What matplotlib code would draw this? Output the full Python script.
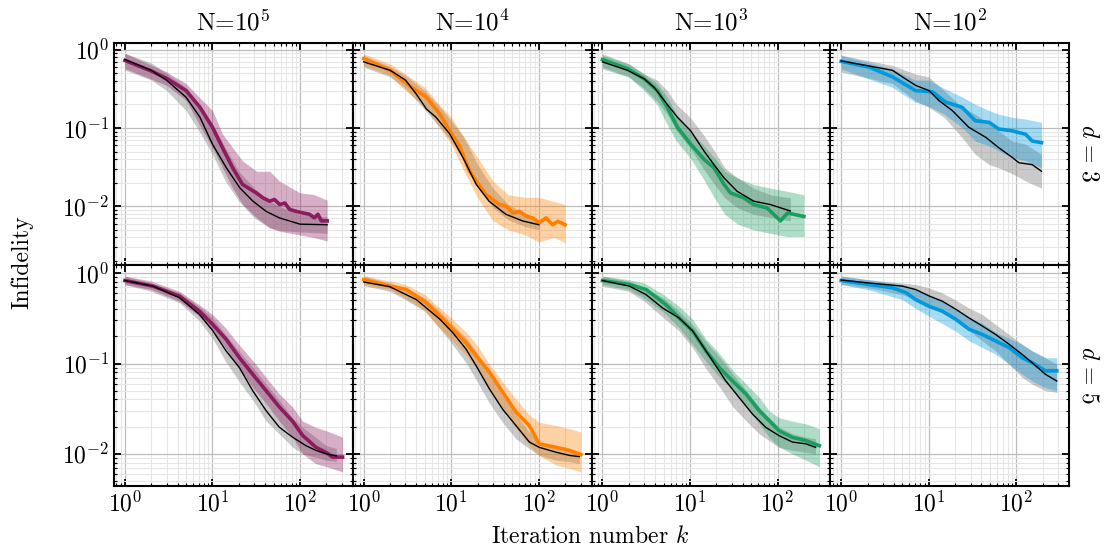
import numpy as np
import matplotlib
matplotlib.use("Agg")
import matplotlib.pyplot as plt
from matplotlib.ticker import LogLocator, FuncFormatter, NullFormatter

plt.rcParams['mathtext.fontset'] = 'cm'
plt.rcParams['font.family'] = 'cmr10'
plt.rcParams['axes.formatter.use_mathtext'] = True

col_titles = ["N=10$^{5}$", "N=10$^{4}$", "N=10$^{3}$", "N=10$^{2}$"]
row_labels = [r"$d\,=\,3$", r"$d\,=\,5$"]
colors = ["#8c1b5f", "#ff8000", "#1a9e5f", "#0099dd"]

t1_k = [1, 2, 3, 5, 7.2, 10, 13, 17, 22, 31.6, 37.7, 45, 51, 58.7, 67, 76, 90.6, 108, 128, 146, 160, 175, 204]
t1_y = [0.73, 0.535, 0.43, 0.30, 0.184, 0.102, 0.056, 0.031, 0.019, 0.0148, 0.0128, 0.0116, 0.0122, 0.0105, 0.011, 0.0091, 0.0086, 0.0082, 0.0079, 0.0071, 0.0079, 0.0065, 0.0065]
t1_bk = [1, 3, 5, 7, 10, 13, 17, 22, 32, 45, 58, 100, 141, 204]
t1_hi = [0.9, 0.52, 0.37, 0.25, 0.167, 0.084, 0.056, 0.038, 0.028, 0.028, 0.021, 0.0148, 0.0142, 0.012]
t1_lo = [0.575, 0.35, 0.225, 0.113, 0.056, 0.031, 0.017, 0.0106, 0.0071, 0.0053, 0.0048, 0.0043, 0.0040, 0.0036]
t1r_k = [1, 2, 3, 5, 7.2, 10, 14.4, 20.5, 29, 41, 58, 100, 204]
t1r_y = [0.75, 0.546, 0.406, 0.247, 0.137, 0.062, 0.031, 0.0172, 0.0116, 0.0086, 0.0071, 0.0059, 0.0058]
t1r_bk = [1, 2, 3, 5, 7, 10, 14, 20, 30, 45, 60, 100, 204]
t1r_hi = [0.9, 0.68, 0.5, 0.33, 0.2, 0.113, 0.056, 0.028, 0.017, 0.0116, 0.0098, 0.0079, 0.0073]
t1r_lo = [0.55, 0.41, 0.30, 0.167, 0.092, 0.046, 0.021, 0.0116, 0.0071, 0.0053, 0.0049, 0.0047, 0.0045]

t2_k = [1, 2, 3.5, 5.2, 7.4, 9.6, 12.4, 16.2, 19.3, 25, 35.6, 42.4, 50.6, 60, 71.5, 85, 101, 121, 144, 165, 200]
t2_y = [0.77, 0.547, 0.333, 0.248, 0.151, 0.092, 0.059, 0.028, 0.021, 0.014, 0.0105, 0.01, 0.0082, 0.0086, 0.0075, 0.0071, 0.0061, 0.0071, 0.0058, 0.0064, 0.0058]
t2_bk = [1, 2, 3, 5, 7, 10, 14, 20, 30, 45, 70, 100, 150, 200]
t2_hi = [0.89, 0.66, 0.49, 0.33, 0.21, 0.137, 0.076, 0.042, 0.021, 0.014, 0.013, 0.013, 0.0115, 0.0105]
t2_lo = [0.63, 0.47, 0.30, 0.19, 0.11, 0.062, 0.028, 0.0128, 0.0065, 0.005, 0.0043, 0.0035, 0.004, 0.0034]
t2r_k = [1, 2, 3, 4, 5.2, 6.7, 9.6, 13.6, 19.3, 27, 42, 65, 100]
t2r_y = [0.70, 0.547, 0.41, 0.27, 0.175, 0.137, 0.084, 0.042, 0.019, 0.0116, 0.0079, 0.0065, 0.0058]
t2r_bk = [1, 2, 3, 5, 7, 10, 14, 20, 30, 45, 70, 100]
t2r_hi = [0.85, 0.61, 0.47, 0.30, 0.2, 0.124, 0.076, 0.034, 0.017, 0.0105, 0.0079, 0.0067]
t2r_lo = [0.6, 0.45, 0.32, 0.17, 0.11, 0.068, 0.038, 0.019, 0.0095, 0.0067, 0.0055, 0.005]

t3_k = [1, 1.93, 2.98, 4.24, 5.5, 7.2, 10.2, 14.4, 18.8, 24.5, 29, 41, 53.5, 76, 108, 130, 200]
t3_y = [0.75, 0.574, 0.427, 0.30, 0.184, 0.102, 0.062, 0.04, 0.031, 0.019, 0.0148, 0.0128, 0.0105, 0.0095, 0.0065, 0.0082, 0.0074]
t3_bk = [1, 2, 3, 4.2, 5.5, 7, 10, 14, 19, 25, 35, 53, 83, 130, 200]
t3_hi = [0.89, 0.66, 0.49, 0.37, 0.25, 0.15, 0.092, 0.062, 0.042, 0.028, 0.023, 0.019, 0.017, 0.0155, 0.014]
t3_lo = [0.6, 0.45, 0.30, 0.2, 0.11, 0.068, 0.042, 0.023, 0.0128, 0.0079, 0.0059, 0.005, 0.0045, 0.0041, 0.0041]
t3r_k = [1, 1.93, 2.98, 3.9, 5.5, 7.2, 10.2, 14.4, 18.8, 24.5, 34.6, 53.5, 83, 140]
t3r_y = [0.70, 0.546, 0.427, 0.33, 0.2, 0.137, 0.092, 0.051, 0.034, 0.023, 0.0155, 0.0116, 0.0105, 0.0087]
t3r_bk = [1, 2, 3, 4.2, 5.5, 7, 10, 14, 19, 25, 35, 53, 83, 140]
t3r_hi = [0.85, 0.66, 0.49, 0.41, 0.30, 0.2, 0.137, 0.084, 0.051, 0.031, 0.023, 0.017, 0.014, 0.0128]
t3r_lo = [0.57, 0.45, 0.32, 0.22, 0.15, 0.092, 0.056, 0.031, 0.019, 0.0128, 0.0095, 0.0079, 0.0072, 0.0065]

t4_k = [1, 2.09, 3.85, 7.1, 11, 15.6, 24, 34, 49, 63, 90, 128, 152, 194]
t4_y = [0.71, 0.60, 0.45, 0.30, 0.29, 0.214, 0.184, 0.124, 0.118, 0.097, 0.092, 0.083, 0.068, 0.065]
t4_bk = [1, 3.85, 7, 10, 15, 24, 34, 49, 63, 90, 128, 194]
t4_hi = [0.85, 0.57, 0.41, 0.41, 0.32, 0.25, 0.2, 0.167, 0.15, 0.137, 0.13, 0.118]
t4_lo = [0.57, 0.33, 0.214, 0.19, 0.15, 0.102, 0.068, 0.059, 0.051, 0.042, 0.038, 0.031]
t4r_k = [1, 3.85, 5, 7.1, 10.1, 13.1, 18.6, 28.7, 44.8, 63, 90, 107, 152, 194]
t4r_y = [0.72, 0.546, 0.45, 0.35, 0.30, 0.224, 0.167, 0.102, 0.076, 0.056, 0.042, 0.036, 0.034, 0.028]
t4r_bk = [1, 3.85, 7, 10, 15, 24, 34, 49, 63, 90, 128, 194]
t4r_hi = [0.85, 0.63, 0.49, 0.45, 0.30, 0.184, 0.15, 0.112, 0.092, 0.068, 0.062, 0.046]
t4r_lo = [0.52, 0.37, 0.224, 0.184, 0.137, 0.076, 0.046, 0.034, 0.031, 0.026, 0.021, 0.017]

b1_k = [1, 2.09, 4.2, 7.1, 10.1, 14.3, 20.3, 28.8, 41, 58, 82, 107, 152, 197, 235, 306]
b1_y = [0.83, 0.72, 0.557, 0.38, 0.27, 0.186, 0.116, 0.076, 0.05, 0.033, 0.023, 0.016, 0.0118, 0.0104, 0.0092, 0.0092]
b1_bk = [1, 2, 4.2, 7, 10, 14, 20, 29, 41, 58, 82, 107, 150, 200, 306]
b1_hi = [0.93, 0.82, 0.63, 0.45, 0.35, 0.25, 0.163, 0.107, 0.07, 0.046, 0.033, 0.023, 0.0197, 0.018, 0.0153]
b1_lo = [0.75, 0.66, 0.49, 0.336, 0.23, 0.15, 0.09, 0.054, 0.036, 0.023, 0.0153, 0.01, 0.0078, 0.0072, 0.0063]
b1r_k = [1, 2.09, 4.2, 7.1, 10.1, 14.3, 20.3, 28.8, 41, 58, 82, 117, 152, 197, 260]
b1r_y = [0.83, 0.72, 0.535, 0.35, 0.23, 0.138, 0.09, 0.05, 0.030, 0.0197, 0.0153, 0.0123, 0.0109, 0.0100, 0.0095]
b1r_bk = [1, 2, 4.2, 7, 10, 14, 20, 29, 41, 58, 82, 107, 150, 200, 260]
b1r_hi = [0.93, 0.78, 0.61, 0.43, 0.32, 0.21, 0.138, 0.09, 0.059, 0.039, 0.025, 0.0197, 0.0153, 0.0123, 0.0115]
b1r_lo = [0.75, 0.63, 0.47, 0.30, 0.19, 0.107, 0.064, 0.039, 0.023, 0.0166, 0.0119, 0.01, 0.0092, 0.0085, 0.0082]

b2_k = [1, 1.98, 3.07, 5.2, 7.4, 10.4, 14.8, 19.3, 27.4, 38.8, 55, 78, 101, 158, 224, 303]
b2_y = [0.85, 0.72, 0.66, 0.47, 0.336, 0.24, 0.17, 0.122, 0.08, 0.048, 0.029, 0.0205, 0.0129, 0.0118, 0.0109, 0.0098]
b2_bk = [1, 2, 3, 5, 7, 10, 15, 20, 27, 39, 55, 78, 101, 158, 224, 303]
b2_hi = [0.94, 0.82, 0.75, 0.58, 0.43, 0.32, 0.22, 0.157, 0.10, 0.062, 0.04, 0.027, 0.0224, 0.0205, 0.019, 0.0174]
b2_lo = [0.75, 0.66, 0.53, 0.38, 0.26, 0.186, 0.122, 0.086, 0.052, 0.031, 0.019, 0.0124, 0.0096, 0.0075, 0.0069, 0.0063]
b2r_k = [1, 1.98, 4, 7.4, 10.4, 14.8, 19.3, 27.4, 38.8, 55, 78, 101, 158, 224, 290]
b2r_y = [0.80, 0.71, 0.51, 0.31, 0.22, 0.144, 0.094, 0.052, 0.031, 0.0205, 0.0135, 0.0118, 0.0104, 0.0096, 0.0093]
b2r_bk = [1, 2, 3, 5, 7, 10, 15, 20, 27, 39, 55, 78, 101, 158, 224, 290]
b2r_hi = [0.93, 0.78, 0.69, 0.53, 0.40, 0.28, 0.19, 0.13, 0.08, 0.044, 0.027, 0.0174, 0.0135, 0.0118, 0.0109, 0.0104]
b2r_lo = [0.73, 0.63, 0.51, 0.38, 0.26, 0.17, 0.10, 0.062, 0.037, 0.022, 0.0146, 0.0114, 0.0096, 0.0085, 0.0082, 0.0078]

b3_k = [1, 2.03, 3.15, 5.3, 7.5, 10.7, 15.2, 21.6, 30.6, 43.5, 61.8, 80, 104, 148, 210, 300]
b3_y = [0.83, 0.75, 0.66, 0.45, 0.32, 0.23, 0.138, 0.09, 0.064, 0.046, 0.030, 0.0234, 0.018, 0.0152, 0.014, 0.0123]
b3_bk = [1, 2, 3, 5, 7.5, 10.7, 15, 22, 31, 44, 62, 80, 104, 148, 210, 300]
b3_hi = [0.93, 0.85, 0.78, 0.58, 0.43, 0.31, 0.19, 0.127, 0.083, 0.059, 0.042, 0.03, 0.025, 0.023, 0.0215, 0.019]
b3_lo = [0.75, 0.66, 0.53, 0.37, 0.25, 0.163, 0.107, 0.07, 0.05, 0.033, 0.0215, 0.0153, 0.0119, 0.01, 0.0085, 0.0072]
b3r_k = [1, 2.03, 3.15, 4.9, 7.5, 10.7, 12.8, 18.1, 25.7, 36.4, 51.7, 73, 104, 148, 210, 272]
b3r_y = [0.83, 0.72, 0.58, 0.41, 0.32, 0.23, 0.178, 0.107, 0.064, 0.042, 0.0276, 0.0197, 0.0159, 0.0135, 0.0129, 0.0118]
b3r_bk = [1, 2, 3, 5, 7.5, 10.7, 15, 22, 31, 44, 62, 80, 104, 148, 210, 272]
b3r_hi = [0.93, 0.82, 0.69, 0.53, 0.38, 0.27, 0.178, 0.116, 0.076, 0.05, 0.033, 0.025, 0.0198, 0.0167, 0.0153, 0.0147]
b3r_lo = [0.72, 0.63, 0.49, 0.32, 0.23, 0.15, 0.09, 0.054, 0.033, 0.023, 0.0166, 0.014, 0.0118, 0.0109, 0.0104, 0.01]

b4_k = [1, 2.09, 3.85, 5.5, 7.1, 10.1, 14.3, 20.3, 28.8, 41, 58, 83, 117, 152, 215, 290]
b4_y = [0.83, 0.75, 0.69, 0.61, 0.51, 0.43, 0.38, 0.31, 0.24, 0.21, 0.178, 0.15, 0.116, 0.102, 0.083, 0.083]
b4_bk = [1, 2, 5, 7, 10, 14, 20, 29, 41, 58, 83, 117, 152, 215, 290]
b4_hi = [0.93, 0.85, 0.75, 0.66, 0.56, 0.49, 0.40, 0.32, 0.28, 0.22, 0.19, 0.163, 0.138, 0.116, 0.116]
b4_lo = [0.75, 0.66, 0.51, 0.41, 0.336, 0.28, 0.23, 0.178, 0.15, 0.127, 0.098, 0.076, 0.064, 0.054, 0.05]
b4r_k = [1, 2.09, 5, 7.1, 10.1, 14.3, 20.3, 28.8, 41, 58, 83, 117, 152, 215, 290]
b4r_y = [0.84, 0.78, 0.72, 0.66, 0.56, 0.49, 0.40, 0.32, 0.26, 0.21, 0.163, 0.126, 0.102, 0.076, 0.064]
b4r_bk = [1, 2, 5, 7, 10, 14, 20, 29, 41, 58, 83, 117, 152, 215, 290]
b4r_hi = [0.93, 0.85, 0.78, 0.75, 0.69, 0.61, 0.51, 0.41, 0.35, 0.27, 0.21, 0.163, 0.138, 0.116, 0.098]
b4r_lo = [0.75, 0.69, 0.58, 0.51, 0.45, 0.37, 0.30, 0.23, 0.178, 0.138, 0.098, 0.07, 0.059, 0.05, 0.048]

panels = [
    [(t1_k, t1_y, t1_bk, t1_lo, t1_hi, t1r_k, t1r_y, t1r_bk, t1r_lo, t1r_hi),
     (t2_k, t2_y, t2_bk, t2_lo, t2_hi, t2r_k, t2r_y, t2r_bk, t2r_lo, t2r_hi),
     (t3_k, t3_y, t3_bk, t3_lo, t3_hi, t3r_k, t3r_y, t3r_bk, t3r_lo, t3r_hi),
     (t4_k, t4_y, t4_bk, t4_lo, t4_hi, t4r_k, t4r_y, t4r_bk, t4r_lo, t4r_hi)],
    [(b1_k, b1_y, b1_bk, b1_lo, b1_hi, b1r_k, b1r_y, b1r_bk, b1r_lo, b1r_hi),
     (b2_k, b2_y, b2_bk, b2_lo, b2_hi, b2r_k, b2r_y, b2r_bk, b2r_lo, b2r_hi),
     (b3_k, b3_y, b3_bk, b3_lo, b3_hi, b3r_k, b3r_y, b3r_bk, b3r_lo, b3r_hi),
     (b4_k, b4_y, b4_bk, b4_lo, b4_hi, b4r_k, b4r_y, b4r_bk, b4r_lo, b4r_hi)],
]
row_ylims = [(0.0018, 1.22), (0.0044, 1.25)]
xlim = (0.75, 400)

W, H = 1106, 550
fig, axes = plt.subplots(2, 4, figsize=(W / 100, H / 100), dpi=100, sharex=True)
fig.subplots_adjust(left=114 / W, right=1069 / W, top=1 - 43 / H, bottom=1 - 486 / H,
                    wspace=0, hspace=0)

fmt = FuncFormatter(lambda v, p: r"$10^{%d}$" % int(round(np.log10(v))))

for r in range(2):
    for c in range(4):
        ax = axes[r, c]
        ck, cy, cbk, clo, chi, rk, ry, rbk, rlo, rhi = panels[r][c]
        ax.fill_between(rbk, rlo, rhi, color="#8a8a8a", alpha=0.45, lw=0, zorder=2)
        ax.fill_between(cbk, clo, chi, color=colors[c], alpha=0.35, lw=0, zorder=3)
        ax.plot(ck, cy, color=colors[c], lw=2.6, zorder=4, solid_joinstyle='round')
        ax.plot(rk, ry, color="black", lw=1.0, zorder=5)
        ax.set_xscale('log')
        ax.set_yscale('log')
        ax.set_xlim(*xlim)
        ax.set_ylim(*row_ylims[r])
        ax.xaxis.set_major_locator(LogLocator(base=10, numticks=10))
        ax.xaxis.set_minor_locator(LogLocator(base=10, subs=np.arange(2, 10), numticks=20))
        ax.yaxis.set_major_locator(LogLocator(base=10, numticks=10))
        ax.yaxis.set_minor_locator(LogLocator(base=10, subs=np.arange(2, 10), numticks=20))
        ax.xaxis.set_major_formatter(fmt)
        ax.yaxis.set_major_formatter(fmt)
        ax.xaxis.set_minor_formatter(NullFormatter())
        ax.yaxis.set_minor_formatter(NullFormatter())
        ax.grid(True, which='major', color="#bdbdbd", lw=0.9, zorder=0)
        ax.grid(True, which='minor', color="#e6e6e6", lw=0.8, zorder=0)
        ax.set_axisbelow(True)
        ax.tick_params(which='both', direction='in', top=True, right=True, labelsize=17)
        ax.tick_params(which='major', length=5, width=1.3)
        ax.tick_params(which='minor', length=2.5, width=0.8)
        for s in ax.spines.values():
            s.set_linewidth(1.5)
        if c != 0:
            ax.tick_params(labelleft=False)
        if r != 1:
            ax.tick_params(labelbottom=False)
        if r == 0:
            ax.set_title(col_titles[c], fontsize=18, pad=9)
        if c == 3:
            ax.text(1.08, 0.5, row_labels[r], transform=ax.transAxes, rotation=270,
                    ha='center', va='center', fontsize=17)

fig.text(22 / W, 1 - 262 / H, "Infidelity", rotation=90, ha='center', va='center', fontsize=17)
fig.text(590 / W, 1 - 537 / H, r"Iteration number $k$", ha='center', va='center', fontsize=17)

fig.savefig("out.png", dpi=100)
